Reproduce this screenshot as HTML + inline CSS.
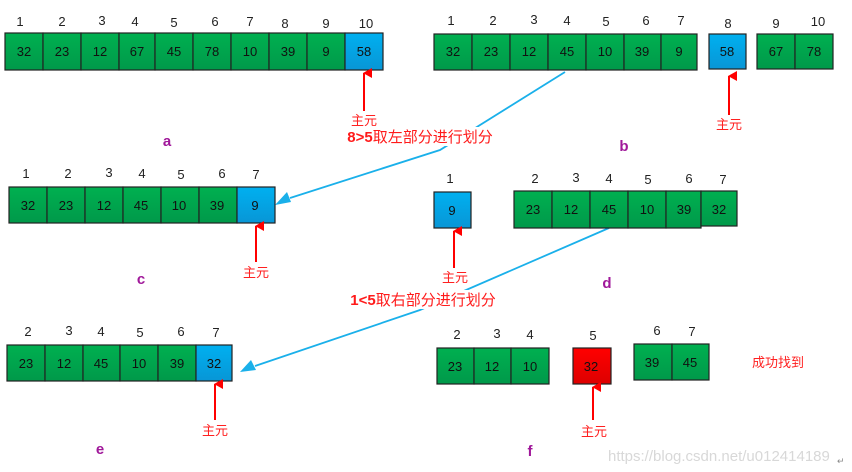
<!DOCTYPE html>
<html><head><meta charset="utf-8"><style>
html,body{margin:0;padding:0;background:#fff;width:852px;height:472px;overflow:hidden}
svg{display:block}
text{font-family:"Liberation Sans","Noto Sans CJK SC",sans-serif}
.n{font-size:13px;fill:#222;text-anchor:middle}
.v{font-size:13px;fill:#111;text-anchor:middle}
.g{fill:url(#gg);stroke:#222;stroke-width:1.2}
.b{fill:url(#bg);stroke:#222;stroke-width:1.2}
.r{fill:url(#rg);stroke:#222;stroke-width:1.2}
.zy{font-size:13px;fill:#ff2020;text-anchor:middle}
.lab{font-size:15px;font-weight:bold;fill:#a0189a;text-anchor:middle}
.big{font-size:15px;fill:#ff1a1a;text-anchor:middle}
</style></head><body>
<svg width="852" height="472" viewBox="0 0 852 472" xmlns="http://www.w3.org/2000/svg">
<defs>
<linearGradient id="gg" x1="0" y1="0" x2="0" y2="1"><stop offset="0" stop-color="#00b050"/><stop offset="1" stop-color="#00994a"/></linearGradient>
<linearGradient id="bg" x1="0" y1="0" x2="0" y2="1"><stop offset="0" stop-color="#00b0f0"/><stop offset="1" stop-color="#0896d6"/></linearGradient>
<linearGradient id="rg" x1="0" y1="0" x2="0" y2="1"><stop offset="0" stop-color="#ff0000"/><stop offset="1" stop-color="#dd0000"/></linearGradient>
<marker id="ra" markerWidth="10" markerHeight="10" refX="5" refY="1" orient="auto" markerUnits="userSpaceOnUse"><path d="M0,9 L5,0 L10,9 Z" fill="#ff0000"/></marker>
</defs>

<!-- a -->
<g>
<rect class="g" x="5" y="33" width="38" height="37"/><rect class="g" x="43" y="33" width="38" height="37"/><rect class="g" x="81" y="33" width="38" height="37"/><rect class="g" x="119" y="33" width="36" height="37"/><rect class="g" x="155" y="33" width="38" height="37"/><rect class="g" x="193" y="33" width="38" height="37"/><rect class="g" x="231" y="33" width="38" height="37"/><rect class="g" x="269" y="33" width="38" height="37"/><rect class="g" x="307" y="33" width="38" height="37"/><rect class="b" x="345" y="33" width="38" height="37"/>
<text class="v" x="24" y="56">32</text><text class="v" x="62" y="56">23</text><text class="v" x="100" y="56">12</text><text class="v" x="137" y="56">67</text><text class="v" x="174" y="56">45</text><text class="v" x="212" y="56">78</text><text class="v" x="250" y="56">10</text><text class="v" x="288" y="56">39</text><text class="v" x="326" y="56">9</text><text class="v" x="364" y="56">58</text>
<text class="n" x="20" y="26">1</text><text class="n" x="62" y="26">2</text><text class="n" x="102" y="25">3</text><text class="n" x="135" y="26">4</text><text class="n" x="174" y="27">5</text><text class="n" x="215" y="26">6</text><text class="n" x="250" y="26">7</text><text class="n" x="285" y="28">8</text><text class="n" x="326" y="28">9</text><text class="n" x="366" y="28">10</text>
<line x1="364" y1="111" x2="364" y2="73" stroke="#ff0000" stroke-width="2" marker-end="url(#ra)"/>
<text class="zy" x="364" y="125">主元</text>
<text class="lab" x="167" y="146">a</text>
</g>

<!-- b -->
<g>
<rect class="g" x="434" y="34" width="38" height="36"/><rect class="g" x="472" y="34" width="38" height="36"/><rect class="g" x="510" y="34" width="38" height="36"/><rect class="g" x="548" y="34" width="38" height="36"/><rect class="g" x="586" y="34" width="38" height="36"/><rect class="g" x="624" y="34" width="37" height="36"/><rect class="g" x="661" y="34" width="36" height="36"/>
<rect class="b" x="709" y="34" width="37" height="35"/>
<rect class="g" x="757" y="34" width="38" height="35"/><rect class="g" x="795" y="34" width="38" height="35"/>
<text class="v" x="453" y="56">32</text><text class="v" x="491" y="56">23</text><text class="v" x="529" y="56">12</text><text class="v" x="567" y="56">45</text><text class="v" x="605" y="56">10</text><text class="v" x="642" y="56">39</text><text class="v" x="679" y="56">9</text><text class="v" x="727" y="56">58</text><text class="v" x="776" y="56">67</text><text class="v" x="814" y="56">78</text>
<text class="n" x="451" y="25">1</text><text class="n" x="493" y="25">2</text><text class="n" x="534" y="24">3</text><text class="n" x="567" y="25">4</text><text class="n" x="606" y="26">5</text><text class="n" x="646" y="25">6</text><text class="n" x="681" y="25">7</text><text class="n" x="728" y="28">8</text><text class="n" x="776" y="28">9</text><text class="n" x="818" y="26">10</text>
<line x1="729" y1="115" x2="729" y2="76" stroke="#ff0000" stroke-width="2" marker-end="url(#ra)"/>
<text class="zy" x="729" y="129">主元</text>
<text class="lab" x="624" y="151">b</text>
</g>

<!-- connectors -->
<polyline points="565,72 440,150 290,198" fill="none" stroke="#1ab0ea" stroke-width="1.8"/>
<path d="M275,205 L287,192 L291,202 Z" fill="#1ab0ea"/>
<polyline points="609,228 420,310 255,366" fill="none" stroke="#1ab0ea" stroke-width="1.8"/>
<path d="M240,372 L251,360 L256,370 Z" fill="#1ab0ea"/>
<rect x="340" y="127" width="160" height="19" fill="#fff"/>
<text x="420" y="142" class="big"><tspan font-weight="bold">8&gt;5</tspan>取左部分进行划分</text>
<rect x="344" y="290" width="160" height="19" fill="#fff"/>
<text x="423" y="305" class="big"><tspan font-weight="bold">1&lt;5</tspan>取右部分进行划分</text>

<!-- c -->
<g>
<rect class="g" x="9" y="187" width="38" height="36"/><rect class="g" x="47" y="187" width="38" height="36"/><rect class="g" x="85" y="187" width="38" height="36"/><rect class="g" x="123" y="187" width="38" height="36"/><rect class="g" x="161" y="187" width="38" height="36"/><rect class="g" x="199" y="187" width="38" height="36"/><rect class="b" x="237" y="187" width="38" height="36"/>
<text class="v" x="28" y="210">32</text><text class="v" x="66" y="210">23</text><text class="v" x="104" y="210">12</text><text class="v" x="141" y="210">45</text><text class="v" x="179" y="210">10</text><text class="v" x="217" y="210">39</text><text class="v" x="255" y="210">9</text>
<text class="n" x="26" y="178">1</text><text class="n" x="68" y="178">2</text><text class="n" x="109" y="177">3</text><text class="n" x="142" y="178">4</text><text class="n" x="181" y="179">5</text><text class="n" x="222" y="178">6</text><text class="n" x="256" y="179">7</text>
<line x1="256" y1="262" x2="256" y2="226" stroke="#ff0000" stroke-width="2" marker-end="url(#ra)"/>
<text class="zy" x="256" y="277">主元</text>
<text class="lab" x="141" y="284">c</text>
</g>

<!-- d -->
<g>
<rect class="b" x="434" y="192" width="37" height="36"/>
<rect class="g" x="514" y="191" width="38" height="37"/><rect class="g" x="552" y="191" width="38" height="37"/><rect class="g" x="590" y="191" width="38" height="37"/><rect class="g" x="628" y="191" width="38" height="37"/><rect class="g" x="666" y="191" width="35" height="37"/><rect class="g" x="701" y="191" width="36" height="35"/>
<text class="v" x="452" y="215">9</text>
<text class="v" x="533" y="214">23</text><text class="v" x="571" y="214">12</text><text class="v" x="609" y="214">45</text><text class="v" x="647" y="214">10</text><text class="v" x="684" y="214">39</text><text class="v" x="719" y="214">32</text>
<text class="n" x="450" y="183">1</text><text class="n" x="535" y="183">2</text><text class="n" x="576" y="182">3</text><text class="n" x="609" y="183">4</text><text class="n" x="648" y="184">5</text><text class="n" x="689" y="183">6</text><text class="n" x="723" y="184">7</text>
<line x1="454" y1="268" x2="454" y2="231" stroke="#ff0000" stroke-width="2" marker-end="url(#ra)"/>
<text class="zy" x="455" y="282">主元</text>
<text class="lab" x="607" y="288">d</text>
</g>

<!-- e -->
<g>
<rect class="g" x="7" y="345" width="38" height="36"/><rect class="g" x="45" y="345" width="38" height="36"/><rect class="g" x="83" y="345" width="37" height="36"/><rect class="g" x="120" y="345" width="38" height="36"/><rect class="g" x="158" y="345" width="38" height="36"/><rect class="b" x="196" y="345" width="36" height="36"/>
<text class="v" x="26" y="368">23</text><text class="v" x="64" y="368">12</text><text class="v" x="101" y="368">45</text><text class="v" x="139" y="368">10</text><text class="v" x="177" y="368">39</text><text class="v" x="214" y="368">32</text>
<text class="n" x="28" y="336">2</text><text class="n" x="69" y="335">3</text><text class="n" x="101" y="336">4</text><text class="n" x="140" y="337">5</text><text class="n" x="181" y="336">6</text><text class="n" x="216" y="337">7</text>
<line x1="215" y1="420" x2="215" y2="384" stroke="#ff0000" stroke-width="2" marker-end="url(#ra)"/>
<text class="zy" x="215" y="435">主元</text>
<text class="lab" x="100" y="454">e</text>
</g>

<!-- f -->
<g>
<rect class="g" x="437" y="348" width="37" height="36"/><rect class="g" x="474" y="348" width="37" height="36"/><rect class="g" x="511" y="348" width="38" height="36"/>
<rect class="r" x="573" y="348" width="38" height="36"/>
<rect class="g" x="634" y="344" width="38" height="36"/><rect class="g" x="672" y="344" width="37" height="36"/>
<text class="v" x="455" y="371">23</text><text class="v" x="492" y="371">12</text><text class="v" x="530" y="371">10</text><text class="v" x="591" y="371">32</text><text class="v" x="652" y="367">39</text><text class="v" x="690" y="367">45</text>
<text class="n" x="457" y="339">2</text><text class="n" x="497" y="338">3</text><text class="n" x="530" y="339">4</text><text class="n" x="593" y="340">5</text><text class="n" x="657" y="335">6</text><text class="n" x="692" y="336">7</text>
<line x1="593" y1="420" x2="593" y2="387" stroke="#ff0000" stroke-width="2" marker-end="url(#ra)"/>
<text class="zy" x="594" y="436">主元</text>
<text class="lab" x="530" y="456">f</text>
<text class="zy" x="778" y="367">成功找到</text>
</g>

<text x="608" y="461" font-size="15" fill="#d8d8d8" style="font-family:'Liberation Sans',sans-serif">https://blog.csdn.net/u012414189</text>
<text x="837" y="464" font-size="9" fill="#888">↵</text>
</svg>
</body></html>
